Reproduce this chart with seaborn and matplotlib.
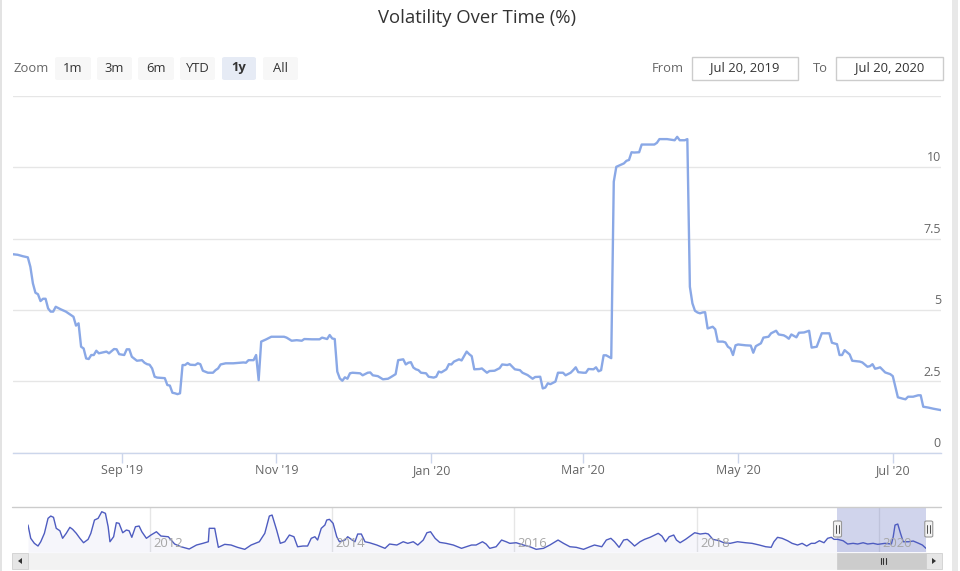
import numpy as np
import pandas as pd
import matplotlib
matplotlib.use("Agg")
import matplotlib.pyplot as plt
from matplotlib.patches import FancyBboxPatch, Rectangle, Polygon
import matplotlib.transforms as mtransforms
import seaborn as sns

sns.set_theme(style="white")
plt.rcParams["font.family"] = ["Open Sans", "DejaVu Sans"]

# main series: days after Jul 20, 2019 and volatility (%)
start = pd.Timestamp("2019-07-20")
day_offset = [0, 2, 4, 6, 7, 8, 9, 10, 11, 12, 13, 14, 15, 16, 17, 19, 21, 23, 24, 25,
              26, 27, 28, 29, 30, 31, 32, 33, 34, 36, 37, 38, 40, 41, 42, 44, 45, 46, 47, 48,
              49, 51, 52, 53, 54, 55, 56, 57, 60, 61, 62, 63, 64, 65, 66, 67, 68, 69, 70, 72,
              73, 74, 75, 77, 79, 80, 81, 82, 84, 87, 90, 91, 92, 93, 95, 96, 97, 98, 100, 102,
              104, 107, 108, 110, 112, 114, 115, 118, 121, 122, 124, 125, 126, 127, 128, 129, 130, 131, 132, 133,
              134, 137, 138, 140, 141, 142, 144, 146, 148, 149, 151, 152, 154, 155, 156, 157, 158, 159, 160, 161,
              163, 164, 166, 167, 168, 169, 171, 172, 173, 174, 176, 177, 179, 180, 181, 182, 184, 185, 187, 188,
              190, 192, 193, 195, 196, 198, 200, 201, 203, 205, 206, 208, 209, 210, 211, 212, 214, 215, 217, 218,
              220, 221, 222, 223, 225, 226, 227, 229, 230, 231, 232, 233, 234, 236, 237, 238, 240, 241, 242, 243,
              244, 245, 247, 248, 250, 253, 254, 255, 258, 261, 262, 263, 265, 266, 267, 268, 269, 270, 271, 272,
              273, 274, 276, 277, 278, 280, 281, 282, 283, 284, 285, 286, 289, 291, 292, 293, 295, 296, 298, 299,
              301, 302, 304, 305, 306, 307, 309, 310, 312, 314, 315, 317, 319, 322, 323, 325, 326, 327, 328, 330,
              331, 334, 335, 337, 338, 339, 340, 341, 342, 344, 346, 347, 349, 351, 352, 353, 355, 357, 358, 359,
              361, 363, 366]
volatility = [6.95, 6.93, 6.88, 6.84, 6.51, 5.93, 5.60, 5.55, 5.31, 5.39, 5.39, 5.05, 4.94, 4.94, 5.11, 5.02, 4.94, 4.82, 4.76, 4.45,
              4.53, 3.71, 3.65, 3.30, 3.28, 3.42, 3.42, 3.57, 3.48, 3.52, 3.54, 3.48, 3.63, 3.62, 3.45, 3.42, 3.62, 3.62, 3.36, 3.29,
              3.22, 3.24, 3.15, 3.10, 3.08, 2.95, 2.66, 2.63, 2.61, 2.37, 2.35, 2.10, 2.08, 2.05, 2.08, 3.07, 3.07, 3.14, 3.08, 3.07,
              3.13, 3.10, 2.87, 2.80, 2.80, 2.89, 2.95, 3.09, 3.13, 3.13, 3.15, 3.16, 3.15, 3.24, 3.24, 3.42, 2.54, 3.89, 3.97, 4.06,
              4.06, 4.06, 4.03, 3.92, 3.94, 3.92, 3.98, 3.97, 3.97, 4.03, 3.98, 4.12, 4.00, 3.98, 2.84, 2.60, 2.52, 2.64, 2.59, 2.78,
              2.80, 2.78, 2.71, 2.80, 2.81, 2.71, 2.68, 2.57, 2.59, 2.64, 2.75, 3.24, 3.27, 3.09, 3.15, 3.17, 2.98, 2.92, 2.89, 2.80,
              2.78, 2.66, 2.63, 2.66, 2.84, 2.81, 2.92, 3.10, 3.09, 3.19, 3.27, 3.23, 3.54, 3.45, 3.38, 2.92, 2.93, 2.95, 2.80, 2.86,
              2.87, 2.96, 3.09, 3.07, 3.10, 2.92, 2.89, 2.80, 2.72, 2.59, 2.65, 2.66, 2.25, 2.28, 2.43, 2.40, 2.49, 2.80, 2.80, 2.71,
              2.80, 2.89, 2.99, 2.82, 2.80, 2.80, 2.93, 2.92, 2.99, 2.85, 2.89, 3.41, 3.41, 3.31, 9.49, 10.01, 10.09, 10.13, 10.22, 10.25,
              10.52, 10.51, 10.52, 10.79, 10.79, 10.79, 10.85, 10.98, 10.98, 10.94, 11.06, 10.94, 10.94, 10.98, 5.81, 5.23, 4.97, 4.91, 4.88, 4.91,
              4.92, 4.35, 4.41, 4.32, 3.89, 3.89, 3.86, 3.71, 3.65, 3.42, 3.76, 3.79, 3.76, 3.75, 3.50, 3.73, 3.83, 4.03, 4.06, 4.18,
              4.27, 4.14, 4.11, 4.06, 3.99, 4.14, 4.04, 4.20, 4.21, 4.27, 3.68, 3.71, 4.18, 4.18, 3.85, 3.80, 3.42, 3.42, 3.59, 3.44,
              3.22, 3.19, 3.16, 3.01, 3.03, 3.10, 2.94, 2.96, 2.99, 2.81, 2.75, 2.68, 1.94, 1.89, 1.87, 1.96, 1.96, 2.01, 2.01, 1.61,
              1.58, 1.54, 1.49]

# navigator series (full history, decimal years)
nav_year = [2010.66, 2010.69, 2010.73, 2010.77, 2010.80, 2010.84, 2010.88, 2010.91, 2010.94, 2010.97,
            2011.01, 2011.04, 2011.08, 2011.12, 2011.15, 2011.19, 2011.23, 2011.27, 2011.32, 2011.35,
            2011.39, 2011.43, 2011.45, 2011.47, 2011.51, 2011.54, 2011.56, 2011.60, 2011.63, 2011.66,
            2011.70, 2011.74, 2011.77, 2011.80, 2011.84, 2011.88, 2011.91, 2011.96, 2012.01, 2012.07,
            2012.12, 2012.20, 2012.27, 2012.34, 2012.43, 2012.51, 2012.58, 2012.64, 2012.65, 2012.71,
            2012.75, 2012.82, 2012.89, 2012.96, 2013.04, 2013.11, 2013.20, 2013.26, 2013.31, 2013.34,
            2013.39, 2013.43, 2013.48, 2013.53, 2013.58, 2013.62, 2013.68, 2013.73, 2013.77, 2013.81,
            2013.84, 2013.88, 2013.92, 2013.94, 2013.97, 2014.01, 2014.05, 2014.08, 2014.14, 2014.17,
            2014.21, 2014.25, 2014.28, 2014.32, 2014.36, 2014.41, 2014.49, 2014.58, 2014.63, 2014.71,
            2014.78, 2014.83, 2014.89, 2014.94, 2015.00, 2015.04, 2015.08, 2015.13, 2015.18, 2015.25,
            2015.33, 2015.42, 2015.53, 2015.58, 2015.65, 2015.69, 2015.73, 2015.80, 2015.86, 2015.91,
            2015.95, 2016.02, 2016.10, 2016.17, 2016.24, 2016.32, 2016.39, 2016.48, 2016.54, 2016.61,
            2016.68, 2016.76, 2016.83, 2016.88, 2016.96, 2017.01, 2017.06, 2017.10, 2017.15, 2017.20,
            2017.24, 2017.29, 2017.32, 2017.38, 2017.43, 2017.49, 2017.54, 2017.58, 2017.62, 2017.66,
            2017.70, 2017.75, 2017.78, 2017.82, 2017.88, 2017.93, 2017.98, 2018.01, 2018.04, 2018.10,
            2018.13, 2018.18, 2018.25, 2018.30, 2018.37, 2018.45, 2018.54, 2018.61, 2018.69, 2018.76,
            2018.82, 2018.85, 2018.89, 2018.94, 2019.00, 2019.05, 2019.11, 2019.16, 2019.21, 2019.26,
            2019.30, 2019.35, 2019.40, 2019.44, 2019.48, 2019.51, 2019.55, 2019.61, 2019.66, 2019.72,
            2019.77, 2019.83, 2019.88, 2019.94, 2019.99, 2020.07, 2020.14, 2020.16, 2020.18, 2020.21,
            2020.24, 2020.27, 2020.33, 2020.38, 2020.44, 2020.48, 2020.52]
nav_value = [10.34, 5.29, 3.38, 2.36, 3.99, 7.19, 12.89, 13.76, 13.27, 9.09,
             8.17, 5.29, 7.19, 9.47, 8.71, 7.19, 5.29, 3.61, 4.90, 7.19,
             12.24, 12.89, 14.14, 15.40, 14.79, 9.70, 3.99, 5.89, 11.22, 10.99,
             7.41, 8.44, 8.17, 5.67, 9.70, 9.96, 7.79, 5.29, 6.54, 7.79,
             6.16, 5.89, 3.12, 2.09, 1.22, 2.74, 3.38, 3.99, 9.09, 9.09,
             1.86, 3.00, 2.74, 1.86, 1.10, 2.74, 3.99, 7.19, 13.76, 14.14,
             8.44, 3.38, 3.99, 6.54, 5.89, 2.09, 2.36, 2.36, 5.29, 5.89,
             4.64, 9.09, 10.34, 12.24, 12.51, 10.99, 5.89, 3.99, 4.64, 5.89,
             4.90, 3.99, 6.92, 6.92, 3.99, 3.61, 2.74, 1.48, 3.12, 2.74,
             3.99, 3.38, 3.99, 2.74, 4.64, 7.41, 7.79, 5.29, 3.76, 3.38,
             2.74, 1.48, 2.74, 2.74, 3.99, 3.12, 1.48, 2.09, 4.64, 3.99,
             3.38, 3.61, 2.74, 2.09, 1.10, 1.48, 2.74, 4.64, 3.38, 2.09,
             1.86, 1.10, 2.09, 2.74, 2.09, 4.64, 5.29, 3.99, 1.86, 4.64,
             4.90, 3.38, 2.36, 3.99, 4.90, 5.67, 6.54, 7.19, 6.16, 3.99,
             5.89, 6.54, 4.64, 3.61, 4.90, 6.16, 7.41, 7.19, 6.92, 7.19,
             6.92, 4.90, 4.37, 3.61, 3.38, 3.99, 3.61, 3.38, 2.74, 2.09,
             1.86, 3.99, 5.67, 5.29, 4.37, 3.38, 2.74, 3.38, 2.36, 3.38,
             3.38, 4.37, 3.61, 5.29, 5.67, 4.90, 4.90, 4.37, 3.12, 3.38,
             3.12, 3.61, 3.12, 3.38, 3.00, 3.38, 3.12, 5.89, 10.34, 10.72,
             7.19, 3.99, 3.99, 4.26, 3.38, 2.74, 1.48]

y_ticks = [0, 2.5, 5, 7.5, 10, 12.5]
y_labels = ["0", "2.5", "5", "7.5", "10"]
x_tick_dates = ["2019-09-01", "2019-11-01", "2020-01-01", "2020-03-01", "2020-05-01", "2020-07-01"]
x_tick_labels = ["Sep '19", "Nov '19", "Jan '20", "Mar '20", "May '20", "Jul '20"]
nav_tick_years = [2012, 2014, 2016, 2018, 2020]
zoom_buttons = ["1m", "3m", "6m", "YTD", "1y", "All"]
selected_button = "1y"
range_from = "Jul 20, 2019"
range_to = "Jul 20, 2020"
title = "Volatility Over Time (%)"

df = pd.DataFrame({"date": start + pd.to_timedelta(day_offset, unit="D"), "vol": volatility})
nav_dates = pd.Timestamp("2012-01-01") + pd.to_timedelta((np.array(nav_year) - 2012) * 365.25, unit="D")
nav = pd.DataFrame({"date": nav_dates, "vol": nav_value})
sel_start, sel_end = df["date"].min(), df["date"].max()

W, H = 960, 571
fig = plt.figure(figsize=(W / 100, H / 100), dpi=100)


def fx(x):
    return x / W


def fy(y):
    return 1 - y / H


def pt(px):
    return px * 0.72


# main chart
ax = fig.add_axes([fx(12.6), fy(452.7), fx(941) - fx(12.6), fy(95.7) - fy(452.7)])
sns.lineplot(data=df, x="date", y="vol", ax=ax, color="#8aa8e6", linewidth=1.7, estimator=None)
ax.set_xlim(sel_start, sel_end)
ax.set_ylim(0, 12.5)
ax.set_yticks(y_ticks)
ax.set_yticklabels([])
ax.tick_params(axis="y", length=0)
ax.grid(axis="y", color="#e6e6e6", linewidth=1)
ax.grid(axis="x", visible=False)
ax.set_xlabel("")
ax.set_ylabel("")
for side in ["top", "left", "right"]:
    ax.spines[side].set_visible(False)
ax.spines["bottom"].set_color("#ccd6eb")
ax.spines["bottom"].set_linewidth(1)
ax.set_xticks(pd.to_datetime(x_tick_dates))
ax.set_xticklabels(x_tick_labels)
ax.tick_params(axis="x", direction="out", length=pt(10), width=1, color="#ccd6eb",
               labelcolor="#666666", labelsize=pt(12.5), pad=1, bottom=True)
for v, lab in zip(y_ticks, y_labels):
    ax.annotate(lab, xy=(1, v), xycoords=("axes fraction", "data"), xytext=(0, 2),
                textcoords="offset points", ha="right", va="bottom",
                color="#666666", fontsize=pt(12.5))

# navigator
nav_ax = fig.add_axes([fx(28), fy(551.7), fx(926) - fx(28), fy(507) - fy(551.7)])
nav_ax.fill_between(nav["date"], nav["vol"], 0, color="#6670c8", alpha=0.06, linewidth=0)
sns.lineplot(data=nav, x="date", y="vol", ax=nav_ax, color="#4e5cc0", linewidth=1.0, estimator=None)
nav_ax.set_xlim(nav["date"].min(), nav["date"].max())
nav_ax.set_ylim(0.2, 17.2)
nav_ax.set_xlabel("")
nav_ax.set_ylabel("")
nav_ax.set_yticks([])
grid_dates = pd.to_datetime([f"{y}-01-01" for y in nav_tick_years])
nav_ax.set_xticks(grid_dates)
nav_ax.set_xticklabels([])
nav_ax.tick_params(axis="x", length=0)
nav_ax.grid(axis="x", color="#e6e6e6", linewidth=1)
for side in ["top", "left", "right", "bottom"]:
    nav_ax.spines[side].set_visible(False)
for d, yr in zip(grid_dates, nav_tick_years):
    nav_ax.annotate(str(yr), xy=(d, 0), xycoords=("data", "axes fraction"), xytext=(2.5, 1),
                    textcoords="offset points", ha="left", va="bottom",
                    color="#a6a6a6", fontsize=pt(13))
nav_ax.axvspan(sel_start, sel_end, color="#6673c2", alpha=0.3, linewidth=0)

# handles at the selection edges
tr = mtransforms.blended_transform_factory(nav_ax.transData, fig.transFigure)
for d in [sel_start, sel_end]:
    xd = matplotlib.dates.date2num(d)
    xpix = nav_ax.transData.transform((xd, 0))[0]
    x0 = fig.transFigure.inverted().transform((xpix, 0))[0]
    fig.patches.append(FancyBboxPatch((x0 - fx(4), fy(537)), fx(8), fy(521) - fy(537),
                                      boxstyle="round,pad=0,rounding_size=0.002",
                                      transform=fig.transFigure, facecolor="#f2f2f2",
                                      edgecolor="#999999", linewidth=0.8))
    for dx in [-1.5, 1.5]:
        fig.lines.append(plt.Line2D([x0 + fx(dx), x0 + fx(dx)], [fy(533), fy(525)],
                                    transform=fig.transFigure, color="#333333", linewidth=0.6))

# navigator outline and scrollbar
fig.lines.append(plt.Line2D([fx(12), fx(941)], [fy(507), fy(507)], transform=fig.transFigure,
                            color="#cccccc", linewidth=1))
fig.patches.append(Rectangle((fx(12), fy(569)), fx(942) - fx(12), fy(553) - fy(569),
                             transform=fig.transFigure, facecolor="#f2f2f2", edgecolor="#f2f2f2", linewidth=0.5))
sx0 = fig.transFigure.inverted().transform(nav_ax.transData.transform((matplotlib.dates.date2num(sel_start), 0)))[0]
sx1 = fig.transFigure.inverted().transform(nav_ax.transData.transform((matplotlib.dates.date2num(sel_end), 0)))[0]
fig.patches.append(Rectangle((sx0, fy(569)), sx1 - sx0, fy(553) - fy(569), transform=fig.transFigure,
                             facecolor="#cccccc", edgecolor="#cccccc", linewidth=0.5))
for dx in [-2.5, 0, 2.5]:
    xm = (sx0 + sx1) / 2 + fx(dx)
    fig.lines.append(plt.Line2D([xm, xm], [fy(564), fy(558)], transform=fig.transFigure,
                                color="#333333", linewidth=0.8))
for bx0, bx1, direction in [(12, 28, -1), (926, 942, 1)]:
    fig.patches.append(Rectangle((fx(bx0), fy(569)), fx(bx1) - fx(bx0), fy(553) - fy(569),
                                 transform=fig.transFigure, facecolor="#e6e6e6", edgecolor="#cccccc",
                                 linewidth=0.5))
    cx = (bx0 + bx1) / 2
    tri = [(fx(cx + direction * 2), fy(561)), (fx(cx - direction * 2), fy(558)), (fx(cx - direction * 2), fy(564))]
    fig.patches.append(Polygon(tri, closed=True, transform=fig.transFigure, facecolor="#333333", edgecolor="none"))

# title
fig.text(fx(477), fy(18), title, ha="center", va="center", color="#333333", fontsize=pt(18.5))

# range selector
fig.text(fx(13), fy(68), "Zoom", ha="left", va="center", color="#666666", fontsize=pt(13))
button_edges = [(55, 91), (97, 132), (138, 174), (180, 215), (222, 256), (263, 298)]
for lab, (bx0, bx1) in zip(zoom_buttons, button_edges):
    sel = lab == selected_button
    fig.patches.append(FancyBboxPatch((fx(bx0), fy(80)), fx(bx1) - fx(bx0), fy(57) - fy(80),
                                      boxstyle="round,pad=0,rounding_size=0.003",
                                      transform=fig.transFigure,
                                      facecolor="#e6ebf5" if sel else "#f7f7f7", edgecolor="none"))
    fig.text(fx((bx0 + bx1) / 2), fy(68), lab, ha="center", va="center", color="#333333",
             fontsize=pt(13), fontweight="bold" if sel else "normal")

fig.text(fx(652), fy(68), "From", ha="left", va="center", color="#666666", fontsize=pt(13))
fig.text(fx(813), fy(68), "To", ha="left", va="center", color="#666666", fontsize=pt(13))
for txt, (bx0, bx1) in [(range_from, (692, 798)), (range_to, (836, 943))]:
    fig.patches.append(Rectangle((fx(bx0), fy(80)), fx(bx1) - fx(bx0), fy(57) - fy(80),
                                 transform=fig.transFigure, facecolor="white", edgecolor="#cccccc",
                                 linewidth=1))
    fig.text(fx((bx0 + bx1) / 2), fy(68), txt, ha="center", va="center", color="#333333", fontsize=pt(13))

# container borders
fig.patches.append(Rectangle((0, 0), fx(1.5), 1, transform=fig.transFigure,
                             facecolor="#e3e3e3", edgecolor="none"))
fig.patches.append(Rectangle((fx(952), 0), fx(6), 1, transform=fig.transFigure,
                             facecolor="#e8e8e8", edgecolor="none"))

fig.savefig("out.png", dpi=100)
